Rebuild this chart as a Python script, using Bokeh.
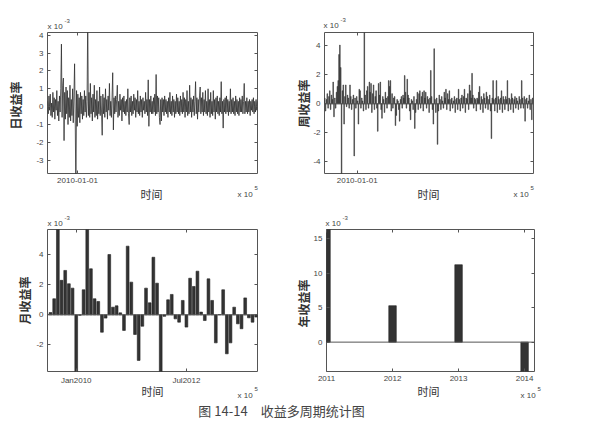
import numpy as np
import pandas as pd
from bokeh.plotting import figure
from bokeh.models import Range1d, LinearAxis, FixedTicker, Label, Span
from bokeh.layouts import column, row
from bokeh.embed import file_html
from bokeh.resources import INLINE

# ---------------- data (returns in units of 1e-3) ----------------
daily_ret = [
    0.3, -0.4, 0.6, -0.2, 0.7, -0.5, 0.2, -0.6, 0.8, -0.3, 0.5, -0.7, 0.4, -0.2, 0.9, -0.5, 0.3, -0.8, 0.6, -0.3,
    1.0, 3.5, -0.6, 1.2, 1.6, -1.9, 0.8, -0.7, 1.1, -0.4, 0.9, -1.0, 0.5, -0.6, 1.2, -0.8, 0.4, -0.5, 1.0, -0.9,
    0.6, 2.4, -0.8, -5.0, 0.9, -1.1, 0.7, -0.6, 0.5, -0.9, 0.8, -0.4, 0.6, -0.7, 0.4, -0.5, 0.9, -0.3, 0.6, -0.6,
    0.3, 5.0, -0.5, 0.8, -0.6, 1.3, -0.4, 0.5, -0.8, 0.7, -0.3, 1.2, -0.6, 0.4, -0.5, 0.9, -0.7, 0.3, -0.4, 1.1,
    -0.5, 0.6, -0.3, -1.6, 0.7, -0.4, 0.5, -0.6, 1.0, -0.3, 0.4, -0.7, 0.6, -0.2, 1.3, -0.5, 0.3, -0.6, 0.5, 1.9,
    -1.3, 0.5, -0.4, 0.6, -0.3, 0.4, 1.2, -0.6, 0.3, -0.5, 0.7, -0.2, 0.4, -0.8, 0.5, -0.3, 0.6, -0.4, 0.3, -0.5,
    0.4, -0.3, 1.0, -0.4, -1.0, 0.5, -0.3, 0.6, -0.5, 0.3, -0.4, 0.7, -0.2, 0.5, -0.6, 0.4, -0.3, 0.9, -0.4, 0.3,
    -0.5, 0.6, -0.3, 0.4, -0.6, 0.5, -0.2, 0.3, -0.4, 0.8, -0.3, 0.4, -0.5, 1.5, -1.1, 0.4, -0.3, 0.6, -0.4, 0.3,
    -0.4, 0.5, -0.3, 0.7, -0.5, 1.8, -0.4, 0.6, -0.3, 0.5, -0.6, -1.0, 0.4, -0.8, 0.5, -0.3, 0.4, -0.5, 0.6, -0.3,
    0.4, -0.4, 0.3, -0.6, 0.5, -0.3, 0.8, -0.4, 0.3, -0.5, 0.6, -0.3, 0.4, -0.6, 0.3, -0.4, 0.7, -0.3, 0.5, -0.4,
    0.3, -0.5, 0.6, -0.3, 0.4, -0.4, 0.8, -0.3, 0.5, -0.6, 0.4, -0.3, 0.9, -0.5, 0.3, -0.4, 1.2, -0.3, 0.5, -0.6,
    0.4, -0.3, 0.6, -0.5, 0.3, 1.4, -0.4, 0.5, -0.7, 0.4, -0.3, 0.6, 1.1, -0.4, 0.5, -0.3, 0.8, -0.5, 0.4, -0.3,
    0.9, -0.4, 0.3, -0.5, 1.0, -0.3, 0.4, -0.6, 0.8, -0.4, 0.3, -0.5, 0.9, -0.3, 0.4, -0.7, 0.5, -0.3, 0.6, -0.4,
    0.3, -0.5, 0.5, -0.3, 1.4, -0.4, 0.3, -1.2, 0.4, -0.3, 0.5, -0.4, 0.6, -0.3, 0.4, -0.5, 0.3, -0.3, 1.0, -0.4,
    0.4, -0.3, 0.5, -0.4, 0.3, -0.5, 0.6, -0.3, 0.4, -0.4, 0.3, -0.5, 0.5, -0.3, 0.4, -0.3, 0.6, -0.4, 0.3, 1.3,
    -0.4, 0.3, -0.3, 0.5, -0.4, 0.3, -0.3, 0.4, -0.5, 0.3, -0.2, 0.4, -0.3, 0.5, -0.4, 0.3, -0.3, 0.4, -0.2, 0.3,
]
daily_start, daily_end = "2009-04-28", "2014-01-30"

weekly_ret = [
    0.4, -0.5, 0.3, 0.7, -0.3, 0.5, 0.9, -0.4, 0.6, 0.3, 1.5, -0.9, 0.4, -0.3, 0.8, 1.2, 1.6, 3.4, 4.05, 2.5,
    -5.5, 0.9, 1.3, -1.4, 0.5, 1.3, -0.2, 0.6, 0.4, -0.3, 1.3, 0.5, -0.4, 0.3, 0.6, -3.6, 0.4, -0.3, 0.5, 0.2,
    -1.4, 1.0, 0.9, -0.3, 0.4, 0.2, -0.5, 5.5, 0.6, -0.4, 0.9, 1.2, -0.3, 1.5, 0.8, 1.4, -0.6, 0.7, 1.3, -0.4,
    0.5, 0.9, -0.3, -1.9, 1.4, 0.6, 1.5, -0.4, -1.0, 0.5, 0.3, -0.6, 0.8, 0.4, -0.3, 0.5, 1.6, 1.2, 1.6, -0.5,
    0.7, -0.3, 0.4, 0.5, -1.5, -0.8, 0.3, 0.2, -0.4, -1.2, 0.3, 0.5, -0.3, 0.6, 0.4, 1.95, 0.8, -0.3, 1.7, 0.6,
    0.4, -0.5, -1.1, 0.3, 0.2, -0.4, 0.5, -1.7, -0.6, 0.3, 0.8, -0.4, 0.7, 0.9, -0.3, 0.5, 0.8, -0.5, 0.9, 0.4,
    0.8, -0.3, 0.5, 0.3, -0.6, 0.4, 2.3, 0.5, -0.4, -1.4, 3.8, 0.3, -0.6, 0.4, -2.8, -0.5, 0.6, 0.3, -0.4, 0.5,
    0.2, -0.3, 0.8, 0.4, 1.0, -0.4, 0.7, 0.3, 0.9, -0.5, 0.3, 0.4, -0.3, 0.2, 0.5, -0.6, 0.3, 0.4, -0.4, 1.0,
    0.3, -0.5, 0.4, 0.6, -0.3, 0.5, 1.0, -0.6, 0.4, 0.3, 0.7, -0.4, 1.3, 0.9, 0.4, 2.1, 0.6, -0.3, 0.4, 0.3,
    -0.5, 0.4, 0.3, 0.8, 1.2, -0.4, 0.5, 0.3, -0.6, 0.7, 0.4, -0.3, 0.8, 0.5, -0.4, 0.3, 0.6, -0.5, -2.4, 0.4,
    1.6, 0.3, -0.5, 0.4, 1.6, -0.6, 0.5, 0.3, -0.4, 0.4, 0.9, -0.6, 0.5, 0.3, -0.4, 0.5, 0.3, 1.6, -0.5, 0.4,
    0.3, -0.4, 0.7, 0.4, -0.6, 0.3, 0.5, -0.3, 0.4, 0.2, -0.4, 0.5, 0.3, -0.3, 1.6, 0.4, -0.3, 0.5, -1.2, 0.3,
    0.4, -0.3, 0.2, 0.6, -0.4, 0.3, -1.1, 0.4,
]
weekly_start = "2009-04-06"

monthly_ret = [
    0.15, 1.07, 6.0, 2.3, 2.96, 2.07, 1.78, -4.2, -0.03, 1.67,
    6.0, 3.07, 1.07, 0.89, -1.16, -0.22, 4.02, 0.51, 0.6, 0.13,
    -1.04, 4.58, 2.18, -1.31, -3.04, -0.76, 1.78, 0.8, 3.84, 2.11,
    -4.2, -0.1, 1.0, 1.36, -0.27, -0.49, 0.96, -0.82, 2.44, 1.89,
    2.91, 0.18, -0.38, 2.4, 0.96, -1.87, 0.02, 1.67, -2.6, -1.87,
    0.51, -0.6, -0.93, 1.13, -0.2, -0.49, -0.15,
]
monthly_start = "2009-06-01"

years = [2011, 2012, 2013, 2014]
annual_ret = [17.0, 5.27, 11.2, -5.0]

daily_ticks = {"2010-01-01": "2010-01-01"}
monthly_ticks = {"2010-01-01": "Jan2010", "2012-07-01": "Jul2012"}
daily_yticks = [-3, -2, -1, 0, 1, 2, 3, 4]
weekly_yticks = [-4, -2, 0, 2, 4]
monthly_yticks = [-2, 0, 2, 4]
annual_yticks = [0, 5, 10, 15]

ylabels = ["日收益率", "周收益率", "月收益率", "年收益率"]
xlabel = "时间"
caption = "图 14-14　收益多周期统计图"

# ---------------- derived coordinates ----------------
ORIGIN = pd.Timestamp("2010-01-01")
def days_since(ts):
    return (pd.DatetimeIndex(ts) - ORIGIN) / pd.Timedelta(days=1)

daily_x = np.asarray(days_since(pd.date_range(daily_start, daily_end, periods=len(daily_ret))))
weekly_x = np.asarray(days_since(pd.date_range(weekly_start, periods=len(weekly_ret), freq="7D")))
mdates = pd.date_range(monthly_start, periods=len(monthly_ret), freq="MS")
monthly_x = np.asarray((mdates.year - 2010) * 12 + (mdates.month - 1), dtype=float)

def month_index(s):
    t = pd.Timestamp(s)
    return float((t.year - 2010) * 12 + t.month - 1)

# ---------------- styling ----------------
FRAME = "#555555"
TICK = "#444444"
TXT = "#333333"
BAR = "#333333"
SANS = "Liberation Sans"
CJK = "Noto Sans CJK SC"


def style_axis(ax, ticks, overrides=None, labels=True):
    ax.ticker = FixedTicker(ticks=ticks)
    ax.axis_line_color = None
    ax.major_tick_in = 3
    ax.major_tick_out = 0
    ax.major_tick_line_color = FRAME
    ax.minor_tick_line_color = None
    ax.major_label_standoff = 4
    ax.major_label_text_font = SANS
    ax.major_label_text_font_size = "8px"
    ax.major_label_text_color = TICK
    if overrides:
        ax.major_label_overrides = overrides
    if not labels:
        ax.major_label_standoff = 0
        ax.major_label_text_color = None
        ax.major_label_text_font_size = "1px"


def make_fig(w, h, bl, br, bt, bb, xr, yr, xt, xo, yt):
    p = figure(width=w, height=h, x_range=xr, y_range=yr, output_backend="svg",
               toolbar_location=None, min_border_left=bl, min_border_right=br,
               min_border_top=bt, min_border_bottom=bb)
    p.xgrid.visible = False
    p.ygrid.visible = False
    p.outline_line_color = FRAME
    p.outline_line_width = 1
    p.background_fill_color = "white"
    p.border_fill_color = "white"
    yo = {t: str(t) for t in yt}
    style_axis(p.xaxis[0], xt, xo)
    style_axis(p.yaxis[0], yt, yo)
    top = LinearAxis()
    style_axis(top, xt, labels=False)
    p.add_layout(top, "above")
    right = LinearAxis()
    style_axis(right, yt, labels=False)
    p.add_layout(right, "right")
    return p


def lab(p, side, x, y, text, size, color=TXT, align="left", angle=0.0, font=SANS, style="normal"):
    # texts outside the frame live in a side panel so they are not clipped;
    # x, y are canvas pixels of this figure (top-left origin)
    p.add_layout(Label(x=x, y=y, x_units="canvas", y_units="canvas", text=text,
                       text_font_size=size, text_color=color, text_align=align,
                       text_baseline="middle", angle=angle, text_font=font,
                       text_font_style=style), side)


def decorate(p, ylab, yl, xl, top, bot):
    # top multiplier "x 10^-3"
    lab(p, "above", top[0], top[1], "x 10", "8px", TICK)
    lab(p, "above", top[0] + 17, top[1] - 6, "-3", "6px", TICK)
    # y label
    lab(p, "left", yl[0], yl[1], ylab, "12px", TXT, "center", np.pi / 2, CJK, "bold")
    # x label
    lab(p, "right", xl[0], xl[1], xlabel, "11px", TXT, "center", 0.0, CJK)
    # bottom multiplier "x 10^5"
    lab(p, "above", bot[0], bot[1], "x 10", "8px", TICK)
    lab(p, "left", bot[0] + 17, bot[1] - 7, "5", "6px", TICK)


# daily  (canvas origin = page (0, 0))
dxt = [float(days_since([pd.Timestamp(k)])[0]) for k in daily_ticks]
p1 = make_fig(290, 200, 47, 33, 32, 27, Range1d(-249, 1491), Range1d(-3.74, 4.15),
              dxt, {t: v for t, v in zip(dxt, daily_ticks.values())}, daily_yticks)
p1.line(daily_x, daily_ret, line_color="#2e2e2e", line_width=0.8)
decorate(p1, ylabels[0], (15, 105), (151, 193), (47, 26), (237, 194))

# weekly (canvas origin = page (290, 0))
p2 = make_fig(291, 200, 33, 48, 32, 27, Range1d(-272, 1466), Range1d(-4.81, 4.92),
              dxt, {t: v for t, v in zip(dxt, daily_ticks.values())}, weekly_yticks)
p2.add_layout(Span(location=0, dimension="width", line_color=FRAME, line_width=1))
p2.vbar(x=weekly_x, top=weekly_ret, bottom=0, width=5.6, fill_color=BAR, line_color=BAR, line_width=0.5)
decorate(p2, ylabels[1], (13, 103), (138, 193), (33, 25), (223, 194))

# monthly (canvas origin = page (0, 200))
mxt = [month_index(k) for k in monthly_ticks]
p3 = make_fig(290, 201, 47, 33, 29, 30, Range1d(-7.82, 49.35), Range1d(-3.78, 5.69),
              mxt, {t: v for t, v in zip(mxt, monthly_ticks.values())}, monthly_yticks)
p3.add_layout(Span(location=0, dimension="width", line_color=FRAME, line_width=1))
p3.vbar(x=monthly_x, top=monthly_ret, bottom=0, width=0.75, fill_color=BAR, line_color="#222222", line_width=0.6)
decorate(p3, ylabels[2], (24, 100), (152, 190), (47, 23), (237, 195))

# annual (canvas origin = page (290, 200))
p4 = make_fig(291, 201, 34, 47, 29, 30, Range1d(2011, 2014.15), Range1d(-4.25, 16.3),
              [float(y) for y in years], {float(y): str(y) for y in years}, annual_yticks)
p4.add_layout(Span(location=0, dimension="width", line_color=FRAME, line_width=1))
p4.vbar(x=years, top=annual_ret, bottom=0, width=0.114, fill_color=BAR, line_color="#222222", line_width=0.6)
decorate(p4, ylabels[3], (13, 103), (138, 190), (35, 23), (230, 195))

# caption
pc = figure(width=581, height=24, x_range=Range1d(0, 581), y_range=Range1d(0, 24),
            output_backend="svg", toolbar_location=None, x_axis_location=None,
            y_axis_location=None, min_border=0)
pc.xgrid.visible = False
pc.ygrid.visible = False
pc.outline_line_color = None
pc.add_layout(Label(x=281, y=15, text=caption, text_font=CJK, text_font_size="13px",
                    text_color="#444444", text_align="center", text_baseline="middle"))

layout = column(row(p1, p2), row(p3, p4), pc)
open("out.html", "w").write(file_html(layout, INLINE))
